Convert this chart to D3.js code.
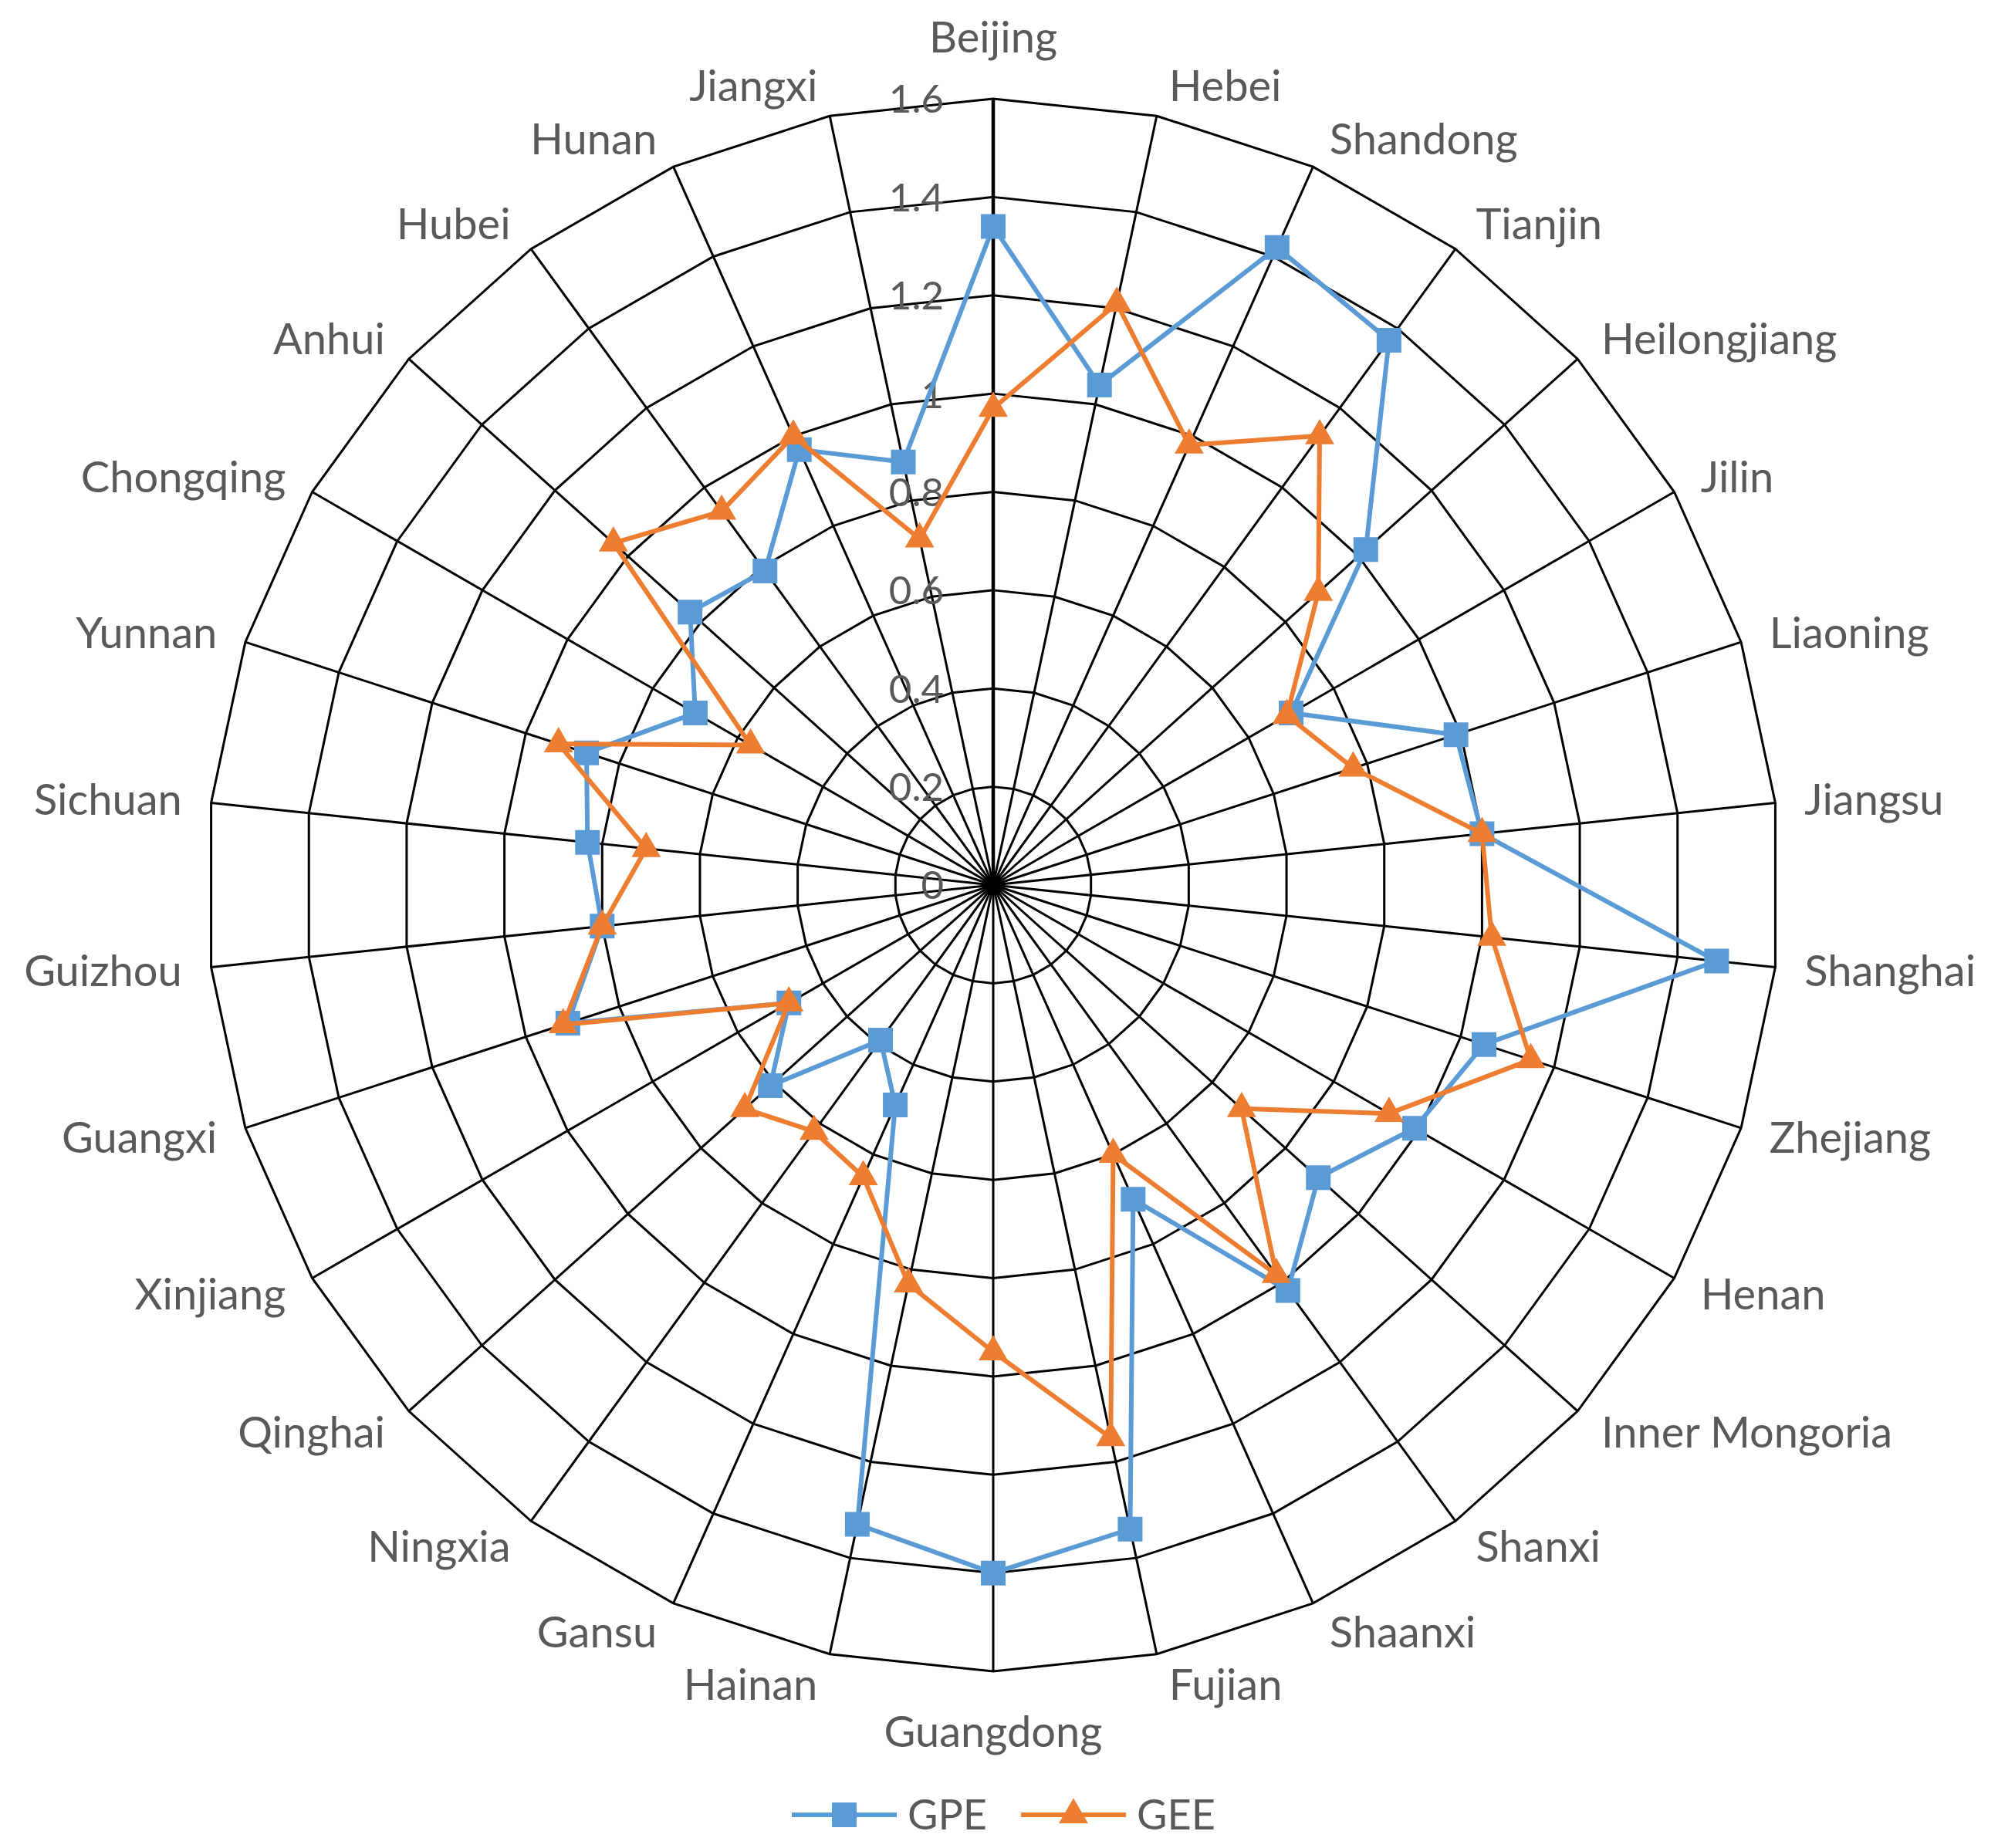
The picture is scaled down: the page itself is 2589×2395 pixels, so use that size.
<!DOCTYPE html>
<html lang="en">
<head>
<meta charset="UTF-8">
<title>GPE / GEE radar</title>
<script src="https://d3js.org/d3.v7.min.js"></script>
<style>
  body { margin: 0; background: #fff; }
  text { font-family: Lato, "Open Sans", sans-serif; fill: #595959; }
</style>
</head>
<body>
<svg id="chart" width="2589" height="2395"></svg>
<script>
// provinces, clockwise from the top
const provinces = ["Beijing", "Hebei", "Shandong", "Tianjin", "Heilongjiang", "Jilin", "Liaoning",
  "Jiangsu", "Shanghai", "Zhejiang", "Henan", "Inner Mongoria", "Shanxi", "Shaanxi", "Fujian",
  "Guangdong", "Hainan", "Gansu", "Ningxia", "Qinghai", "Xinjiang", "Guangxi", "Guizhou",
  "Sichuan", "Yunnan", "Chongqing", "Anhui", "Hubei", "Hunan", "Jiangxi"];

const gpe = [1.34, 1.04, 1.42, 1.37, 1.02, 0.70, 0.99, 1.00, 1.48, 1.05, 0.99, 0.89, 1.02, 0.70, 1.34,
  1.40, 1.33, 0.49, 0.39, 0.61, 0.48, 0.91, 0.80, 0.83, 0.87, 0.70, 0.83, 0.79, 0.97, 0.88];

const gee = [0.97, 1.21, 0.98, 1.13, 0.89, 0.69, 0.77, 1.00, 1.02, 1.15, 0.93, 0.68, 0.98, 0.60, 1.15,
  0.95, 0.83, 0.65, 0.62, 0.68, 0.48, 0.92, 0.80, 0.71, 0.93, 0.57, 1.04, 0.94, 1.00, 0.72];

const ticks = [0, 0.2, 0.4, 0.6, 0.8, 1.0, 1.2, 1.4, 1.6];

const series = [
  { name: "GPE", values: gpe, color: "#5B9BD5", symbol: d3.symbolSquare, size: 1024 },
  { name: "GEE", values: gee, color: "#ED7D31", symbol: d3.symbolTriangle, size: 620 }
];

const cx = 1287, cy = 1147, R = 1019;
const svg = d3.select("#chart");
svg.append("rect").attr("width", 2589).attr("height", 2395).attr("fill", "#fff");
const g = svg.append("g").attr("transform", `translate(${cx},${cy})`);

const r = d3.scaleLinear().domain([0, 1.6]).range([0, R]);
const ang = d3.scaleLinear().domain([0, provinces.length]).range([0, 2 * Math.PI]);
const px = (i, v) => r(v) * Math.sin(ang(i));
const py = (i, v) => -r(v) * Math.cos(ang(i));

// rings (polygons)
const ring = d3.lineRadial().angle((d, i) => ang(i)).radius(d => r(d)).curve(d3.curveLinearClosed);
g.selectAll(".ring").data(ticks.filter(t => t > 0)).enter().append("path")
  .attr("d", t => ring(provinces.map(() => t)))
  .attr("fill", "none").attr("stroke", "#000").attr("stroke-width", 3);

// spokes
g.selectAll(".spoke").data(provinces).enter().append("line")
  .attr("x1", 0).attr("y1", 0)
  .attr("x2", (d, i) => px(i, 1.6)).attr("y2", (d, i) => py(i, 1.6))
  .attr("stroke", "#000").attr("stroke-width", (d, i) => i === 0 ? 4.5 : 3);

// value labels along the top spoke
g.selectAll(".tick").data(ticks).enter().append("text")
  .attr("x", -64).attr("y", t => -r(t))
  .attr("dy", "0.36em").attr("text-anchor", "end")
  .style("font-size", "51px")
  .text(t => d3.format("~g")(t));

// category labels
g.selectAll(".cat").data(provinces).enter().append("text")
  .each(function (d, i) {
    const a = ang(i), s = Math.sin(a), c = Math.cos(a);
    const t = d3.select(this);
    const ex = R * s, ey = -R * c;
    if (Math.abs(s) < 0.01) {
      t.attr("x", 0).attr("y", ey + (c > 0 ? -80 : 78)).attr("text-anchor", "middle");
    } else {
      const off = 10 + 28 * Math.abs(s);
      t.attr("x", ex + (s > 0 ? off : -off)).attr("y", ey - c * 40)
        .attr("text-anchor", s > 0 ? "start" : "end");
    }
  })
  .attr("dy", "0.36em")
  .style("font-size", "56px")
  .text(d => d);

// series lines then markers
const line = d3.lineRadial().angle((d, i) => ang(i)).radius(d => r(d)).curve(d3.curveLinearClosed);
series.forEach(s => {
  g.append("path").attr("d", line(s.values))
    .attr("fill", "none").attr("stroke", s.color).attr("stroke-width", 6)
    .attr("stroke-linejoin", "round");
  g.selectAll(null).data(s.values).enter().append("path")
    .attr("d", d3.symbol().type(s.symbol).size(s.size))
    .attr("transform", (v, i) => `translate(${px(i, v)},${py(i, v)})`)
    .attr("fill", s.color);
});

// legend
const legend = svg.append("g").attr("transform", "translate(0,2352)");
const lx = [1026, 1323];
series.forEach((s, k) => {
  const lg = legend.append("g").attr("transform", `translate(${lx[k]},0)`);
  lg.append("line").attr("x1", 0).attr("x2", 136).attr("y1", 0).attr("y2", 0)
    .attr("stroke", s.color).attr("stroke-width", 6);
  lg.append("path").attr("d", d3.symbol().type(s.symbol).size(s.size))
    .attr("transform", "translate(68,0)").attr("fill", s.color);
  lg.append("text").attr("x", 150).attr("dy", "0.36em")
    .style("font-size", "54px").text(s.name);
});
</script>
</body>
</html>
